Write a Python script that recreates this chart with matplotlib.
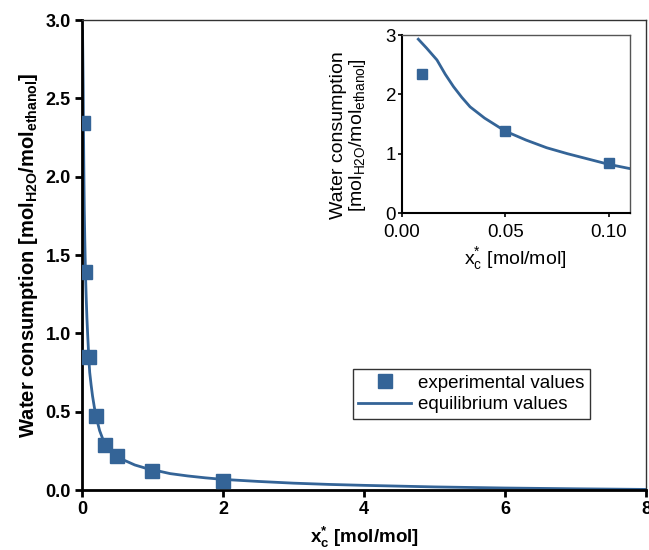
import matplotlib
matplotlib.use("Agg")
import matplotlib.pyplot as plt

plt.rcParams['font.family'] = ['Liberation Sans', 'DejaVu Sans']
plt.rcParams['mathtext.fontset'] = 'custom'
plt.rcParams['mathtext.rm'] = 'Liberation Sans'
plt.rcParams['mathtext.it'] = 'Liberation Sans'
plt.rcParams['mathtext.bf'] = 'Liberation Sans:bold'

# experimental data
exp_x = [0.01, 0.05, 0.1, 0.2, 0.33, 0.5, 1.0, 2.0]
exp_y = [2.34, 1.39, 0.85, 0.47, 0.29, 0.22, 0.12, 0.06]

# equilibrium curve
eq_x = [0.008, 0.012, 0.017, 0.021, 0.025, 0.029, 0.033, 0.04, 0.05, 0.06, 0.07, 0.08, 0.09, 0.1, 0.11,
        0.13, 0.15, 0.175, 0.2, 0.25, 0.3, 0.35, 0.4, 0.5, 0.6, 0.75, 0.9, 1.0, 1.25, 1.5, 1.75,
        2.0, 2.5, 3.0, 3.5, 4.0, 5.0, 6.0, 7.0, 8.0]
eq_y = [2.93, 2.78, 2.58, 2.34, 2.13, 1.95, 1.79, 1.60, 1.38, 1.23, 1.10, 1.00, 0.91, 0.82, 0.75,
        0.67, 0.60, 0.53, 0.47, 0.38, 0.32, 0.28, 0.255, 0.22, 0.19, 0.16, 0.14, 0.13, 0.105, 0.09, 0.078,
        0.068, 0.055, 0.044, 0.036, 0.030, 0.020, 0.013, 0.008, 0.004]

color = '#346497'

fig = plt.figure(figsize=(6.49, 5.5), dpi=100)
ax = fig.add_axes([0.1263, 0.109, 0.869, 0.8545])
ax.plot(eq_x, eq_y, color=color, lw=2, label='equilibrium values', zorder=2)
ax.plot(exp_x, exp_y, 's', color=color, ms=9.5, label='experimental values', zorder=3)
ax.set_xlim(0, 8)
ax.set_ylim(0, 3)
ax.set_xticks([0, 2, 4, 6, 8])
ax.set_yticks([0, 0.5, 1.0, 1.5, 2.0, 2.5, 3.0])
ax.set_yticklabels(['0.0', '0.5', '1.0', '1.5', '2.0', '2.5', '3.0'])
for lab in ax.get_xticklabels() + ax.get_yticklabels():
    lab.set_fontweight('bold')
    lab.set_fontsize(13)
ax.tick_params(direction='out', length=5, width=2, pad=3)
ax.tick_params(axis='x', top=False)
ax.tick_params(axis='y', right=False)
for s in ['left', 'bottom']:
    ax.spines[s].set_linewidth(2)
    ax.spines[s].set_color('black')
for s in ['top', 'right']:
    ax.spines[s].set_linewidth(1)
    ax.spines[s].set_color('#333333')
ax.set_xlabel(r'x$_{\mathbf{c}}^{\mathbf{*}}$ [mol/mol]', fontsize=13.5, fontweight='bold', labelpad=5)
ax.set_ylabel(r'Water consumption [mol$_{\mathbf{H2O}}$/mol$_{\mathbf{ethanol}}$]',
              fontsize=14.5, fontweight='bold', labelpad=4)

h, l = ax.get_legend_handles_labels()
leg = ax.legend([h[1], h[0]], [l[1], l[0]], loc='lower left', bbox_to_anchor=(0.48, 0.151),
                fontsize=13.5, frameon=True, fancybox=False, edgecolor='black',
                borderpad=0.3, handlelength=2.8, handletextpad=0.4, labelspacing=0.25,
                borderaxespad=0)
leg.get_frame().set_linewidth(1)

# inset
ins = fig.add_axes([0.619, 0.6127, 0.351, 0.3236])
ins.plot(eq_x, eq_y, color=color, lw=2, zorder=2)
ins.plot(exp_x, exp_y, 's', color=color, ms=6.5, zorder=3)
ins.set_xlim(0, 0.11)
ins.set_ylim(0, 3)
ins.set_xticks([0, 0.05, 0.10])
ins.set_xticklabels(['0.00', '0.05', '0.10'])
ins.set_yticks([0, 1, 2, 3])
ins.tick_params(direction='out', length=3, width=1.2, labelsize=13.5, pad=1)
ins.tick_params(axis='x', pad=5)
for s in ['left', 'bottom']:
    ins.spines[s].set_linewidth(1.5)
    ins.spines[s].set_color('black')
for s in ['top', 'right']:
    ins.spines[s].set_linewidth(1)
    ins.spines[s].set_color('#555555')
ins.set_xlabel(r'x$_{\mathrm{c}}^{*}$ [mol/mol]', fontsize=14, labelpad=3)
ins.set_ylabel('Water consumption\n' + r'[mol$_{\mathrm{H2O}}$/mol$_{\mathrm{ethanol}}$]',
               fontsize=14, linespacing=1.0)
ins.yaxis.set_label_coords(-0.15, 0.44)

fig.savefig('out.png', dpi=100)
